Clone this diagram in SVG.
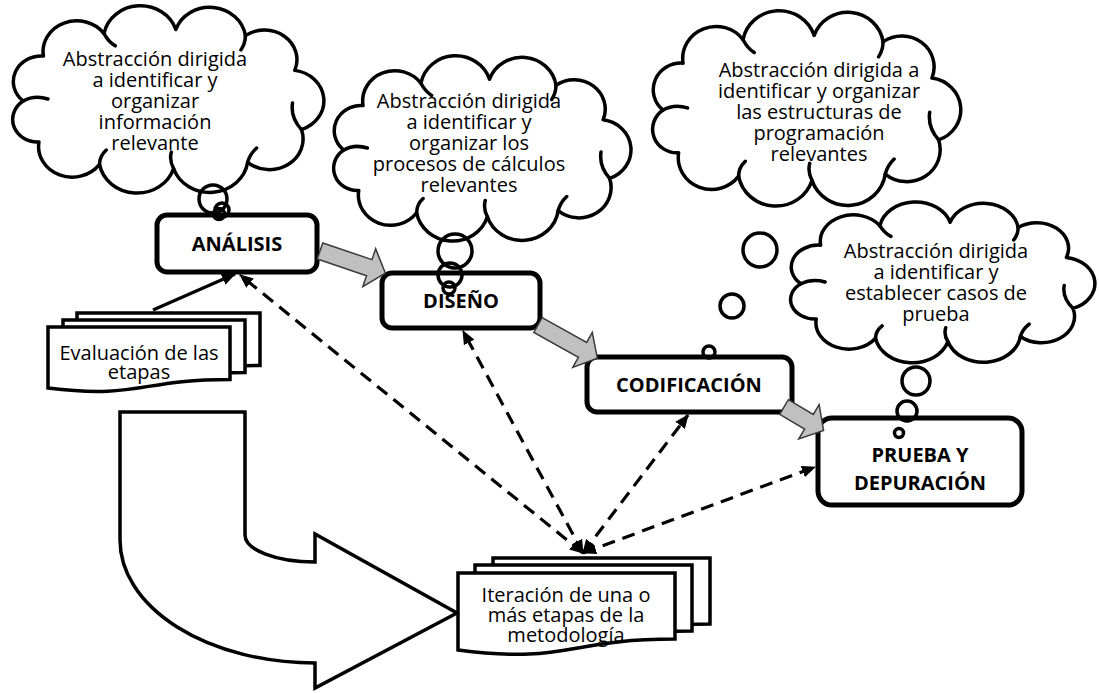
<svg xmlns="http://www.w3.org/2000/svg" width="1099" height="693" viewBox="0 0 1099 693">
<defs>
<style>
text{font-family:"Open Sans","Noto Sans","DejaVu Sans",sans-serif;fill:#000}
.t{font-size:20px;text-anchor:middle}
.b{font-size:20px;font-weight:bold;text-anchor:middle}
.cloud{fill:#fff;stroke:#000;stroke-width:3.5;stroke-linejoin:round}
.hint{fill:none;stroke:#000;stroke-width:3.5;stroke-linecap:round}
.bub{fill:none;stroke:#000;stroke-width:3.5}
.box{fill:#fff;stroke:#000;stroke-width:5}
.doc{fill:#fff;stroke:#000;stroke-width:3.5}
.uarrow{fill:#fff;stroke:#000;stroke-width:3.5;stroke-linejoin:miter}
.blk{fill:#c0c0c0;stroke:#3a3a3a;stroke-width:1.5;stroke-linejoin:miter}
.dash{fill:none;stroke:#000;stroke-width:3.2;stroke-dasharray:13 8}
.solid{fill:none;stroke:#000;stroke-width:3.2}
</style>
<!-- cloud outline in a 300x180 frame, scaled per instance -->
<path id="cloudShape" vector-effect="non-scaling-stroke" d="M24,92 A25,25 0 0 1 42,48 A30,30 0 0 1 96,26 A33,33 0 0 1 160,22 A32,32 0 0 1 222,28 A29,29 0 0 1 266,62 A30,30 0 0 1 272,120 A30,30 0 0 1 224,152 A34,34 0 0 1 158,158 A34,34 0 0 1 92,154 A30,30 0 0 1 38,132 A22,22 0 0 1 24,92 Z"/>
<path id="cloudHints" vector-effect="non-scaling-stroke" d="M24,92 Q34,86 46,90 M96,26 Q100,34 106,38 M222,28 Q222,36 218,42 M272,120 Q262,108 264,94 M224,152 Q226,144 232,138 M92,154 Q92,146 98,140 M158,158 Q154,150 156,142"/>
<marker id="head" viewBox="0 0 14 12" refX="13" refY="6" markerWidth="14" markerHeight="12" markerUnits="userSpaceOnUse" orient="auto-start-reverse">
<path d="M0,0 L14,6 L0,12 Z" fill="#000"/>
</marker>
</defs>
<rect width="1099" height="693" fill="#fff"/>

<!-- large bent arrow feeding the iteration document -->
<g id="bent-arrow">
<path class="uarrow" d="M120,412 H245 V535 A70,27 0 0 0 315,562 V534 L457,613 L315,688 V663 A195,123 0 0 1 120,540 Z"/>
</g>

<!-- stacked documents -->
<g id="doc-evaluacion">
<path class="doc" d="M77,313 H260 V365.4 C168.5,365.4 168.5,385.3 77,374 Z"/>
<path class="doc" d="M63,320 H245 V372.4 C154,372.4 154,392.3 63,381 Z"/>
<path class="doc" d="M48,327 H230 V379.4 C139,379.4 139,399.3 48,388 Z"/>
<text class="t" x="139" y="360">Evaluación de las</text>
<text class="t" x="139" y="379">etapas</text>
</g>
<g id="doc-iteracion">
<path class="doc" d="M493,558 H710 V624.1 C601.5,624.1 601.5,649.2 493,635 Z"/>
<path class="doc" d="M475,565 H692 V631.1 C583.5,631.1 583.5,656.2 475,642 Z"/>
<path class="doc" d="M458,573 H675 V639.1 C566.5,639.1 566.5,664.2 458,650 Z"/>
<text class="t" x="566" y="602">Iteración de una o</text>
<text class="t" x="566" y="622">más etapas de la</text>
<text class="t" x="566" y="642">metodología</text>
</g>

<!-- process stages -->
<g id="analisis">
<rect class="box" x="157" y="215" width="160" height="57" rx="10"/>
<text class="b" x="237" y="251">ANÁLISIS</text>
</g>
<g id="diseno">
<rect class="box" x="382" y="273" width="158" height="55" rx="10"/>
<text class="b" x="461" y="308">DISEÑO</text>
</g>
<g id="codificacion">
<rect class="box" x="587" y="357" width="205" height="55" rx="10"/>
<text class="b" x="689" y="392">CODIFICACIÓN</text>
</g>
<g id="prueba">
<rect class="box" x="818" y="418" width="204" height="87" rx="14"/>
<text class="b" x="920" y="462">PRUEBA Y</text>
<text class="b" x="920" y="490">DEPURACIÓN</text>
</g>

<!-- thought clouds -->
<g id="cloud-analisis">
<use href="#cloudShape" class="cloud" transform="translate(-3.7,7) scale(1.122,1.022)"/>
<use href="#cloudHints" class="hint" transform="translate(-3.7,7) scale(1.122,1.022)"/>
<circle class="bub" cx="213" cy="199" r="14"/>
<circle class="bub" cx="222" cy="210" r="7"/>
<circle class="bub" cx="219" cy="214" r="5.5"/>
<text class="t" x="155" y="66">Abstracción dirigida</text>
<text class="t" x="155" y="87">a identificar y</text>
<text class="t" x="155" y="108">organizar</text>
<text class="t" x="155" y="129">información</text>
<text class="t" x="155" y="150">relevante</text>
</g>
<g id="cloud-diseno">
<use href="#cloudShape" class="cloud" transform="translate(318,57) scale(1.072,1.011)"/>
<use href="#cloudHints" class="hint" transform="translate(318,57) scale(1.072,1.011)"/>
<circle class="bub" cx="455" cy="251" r="17"/>
<circle class="bub" cx="450" cy="275" r="12"/>
<circle class="bub" cx="449" cy="288" r="6"/>
<text class="t" x="469" y="108">Abstracción dirigida</text>
<text class="t" x="469" y="129">a identificar y</text>
<text class="t" x="469" y="150">organizar los</text>
<text class="t" x="469" y="171">procesos de cálculos</text>
<text class="t" x="469" y="192">relevantes</text>
</g>
<g id="cloud-codificacion">
<use href="#cloudShape" class="cloud" transform="translate(636.4,12) scale(1.111,1.066)"/>
<use href="#cloudHints" class="hint" transform="translate(636.4,12) scale(1.111,1.066)"/>
<circle class="bub" cx="760" cy="250" r="17"/>
<circle class="bub" cx="732" cy="306" r="12"/>
<circle class="bub" cx="709" cy="352" r="6"/>
<text class="t" x="819" y="77">Abstracción dirigida a</text>
<text class="t" x="819" y="98">identificar y organizar</text>
<text class="t" x="819" y="119">las estructuras de</text>
<text class="t" x="819" y="140">programación</text>
<text class="t" x="819" y="161">relevantes</text>
</g>
<g id="cloud-prueba">
<use href="#cloudShape" class="cloud" transform="translate(774.6,203) scale(1.097,0.878)"/>
<use href="#cloudHints" class="hint" transform="translate(774.6,203) scale(1.097,0.878)"/>
<circle class="bub" cx="916" cy="381" r="14"/>
<circle class="bub" cx="907" cy="411" r="10"/>
<circle class="bub" cx="899" cy="433" r="4.5"/>
<text class="t" x="936" y="258">Abstracción dirigida</text>
<text class="t" x="936" y="279">a identificar y</text>
<text class="t" x="936" y="300">establecer casos de</text>
<text class="t" x="936" y="321">prueba</text>
</g>

<!-- connectors -->
<g id="connectors">
<polygon class="blk" transform="translate(320,251) rotate(18.7)" points="0,-8.5 52,-8.5 52,-20 69,0 52,20 52,8.5 0,8.5"/>
<polygon class="blk" transform="translate(538,325) rotate(29.2)" points="0,-8.5 51,-8.5 51,-20 68,0 51,20 51,8.5 0,8.5"/>
<polygon class="blk" transform="translate(784,407) rotate(30.7)" points="0,-8.5 29,-8.5 29,-20 46,0 29,20 29,8.5 0,8.5"/>
<line class="solid" x1="153" y1="310" x2="235" y2="274" marker-end="url(#head)"/>
<line class="dash" x1="583" y1="553" x2="240" y2="275" marker-start="url(#head)" marker-end="url(#head)"/>
<line class="dash" x1="583" y1="553" x2="463" y2="331" marker-start="url(#head)" marker-end="url(#head)"/>
<line class="dash" x1="583" y1="553" x2="688" y2="415" marker-start="url(#head)" marker-end="url(#head)"/>
<line class="dash" x1="583" y1="553" x2="815" y2="467" marker-start="url(#head)" marker-end="url(#head)"/>
</g>
</svg>
